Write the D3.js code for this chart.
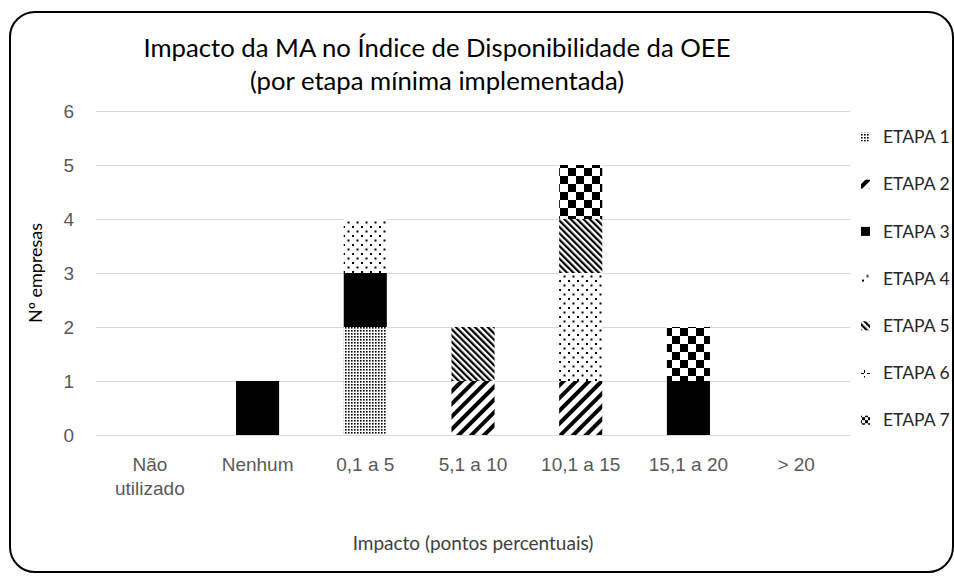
<!DOCTYPE html>
<html>
<head>
<meta charset="utf-8">
<script src="https://cdn.jsdelivr.net/npm/d3@7"></script>
<style>
  body { margin: 0; background: #fff; }
  svg { display: block; font-family: Lato, "Open Sans", sans-serif; }
</style>
</head>
<body>
<script>
// Chart data
const categories = ["Não utilizado", "Nenhum", "0,1 a 5", "5,1 a 10", "10,1 a 15", "15,1 a 20", "> 20"];
const stages = ["ETAPA 1", "ETAPA 2", "ETAPA 3", "ETAPA 4", "ETAPA 5", "ETAPA 6", "ETAPA 7"];
const etapa1 = [0, 0, 2, 0, 0, 0, 0];
const etapa2 = [0, 0, 0, 1, 1, 0, 0];
const etapa3 = [0, 1, 1, 0, 0, 1, 0];
const etapa4 = [0, 0, 1, 0, 2, 0, 0];
const etapa5 = [0, 0, 0, 1, 1, 0, 0];
const etapa6 = [0, 0, 0, 0, 0, 0, 0];
const etapa7 = [0, 0, 0, 0, 1, 1, 0];
const yTicks = [0, 1, 2, 3, 4, 5, 6];

const seriesValues = [etapa1, etapa2, etapa3, etapa4, etapa5, etapa6, etapa7];
const table = categories.map((c, i) => {
  const row = { cat: c };
  stages.forEach((s, j) => row[s] = seriesValues[j][i]);
  return row;
});

const width = 954, height = 582;
const margin = { top: 111, right: 104, bottom: 147, left: 96 };

const svg = d3.select("body").append("svg")
  .attr("width", width)
  .attr("height", height);

// Fill patterns, one per stage
const defs = svg.append("defs");

function pattern(id, w, h, transform) {
  const p = defs.append("pattern")
    .attr("id", id)
    .attr("patternUnits", "userSpaceOnUse")
    .attr("width", w)
    .attr("height", h);
  if (transform) p.attr("patternTransform", transform);
  p.append("rect").attr("width", w).attr("height", h).attr("fill", "#fff");
  return p;
}

// ETAPA 1 - dense dots
let p = pattern("pat1", 3, 3);
p.append("rect").attr("x", 0).attr("y", 0).attr("width", 1.6).attr("height", 1.6).attr("fill", "#000");

// ETAPA 2 - wide upward diagonal
p = pattern("pat2", 9, 9, "rotate(45)");
p.append("rect").attr("x", 0).attr("y", 0).attr("width", 4).attr("height", 9).attr("fill", "#000");

// ETAPA 3 - solid
p = pattern("pat3", 4, 4);
p.append("rect").attr("width", 4).attr("height", 4).attr("fill", "#000");

// ETAPA 4 - sparse dots
p = pattern("pat4", 9, 9);
p.append("rect").attr("x", 1).attr("y", 1).attr("width", 2).attr("height", 2).attr("fill", "#000");
p.append("rect").attr("x", 5.5).attr("y", 5.5).attr("width", 2).attr("height", 2).attr("fill", "#000");

// ETAPA 5 - narrow downward diagonal
p = pattern("pat5", 4.5, 4.5, "rotate(-45)");
p.append("rect").attr("x", 0).attr("y", 0).attr("width", 2.2).attr("height", 4.5).attr("fill", "#000");

// ETAPA 6 - dashed
p = pattern("pat6", 6, 6);
p.append("rect").attr("x", 0).attr("y", 0).attr("width", 3).attr("height", 1).attr("fill", "#000");
p.append("rect").attr("x", 3).attr("y", 3).attr("width", 1).attr("height", 3).attr("fill", "#000");

// ETAPA 7 - large checkerboard
p = pattern("pat7", 16, 16);
p.append("rect").attr("x", 0).attr("y", 0).attr("width", 8).attr("height", 8).attr("fill", "#000");
p.append("rect").attr("x", 8).attr("y", 8).attr("width", 8).attr("height", 8).attr("fill", "#000");

// small checker for the legend icon
p = pattern("pat7s", 6, 6, "translate(862,0)");
p.append("rect").attr("x", 0).attr("y", 0).attr("width", 3).attr("height", 3).attr("fill", "#000");
p.append("rect").attr("x", 3).attr("y", 3).attr("width", 3).attr("height", 3).attr("fill", "#000");

const fills = stages.map((s, i) => `url(#pat${i + 1})`);
const legendFills = fills.map((f, i) => i === 6 ? "url(#pat7s)" : f);

// Outer rounded frame (right edge sits at the window border)
svg.append("rect")
  .attr("x", 10).attr("y", 12)
  .attr("width", 943).attr("height", 560)
  .attr("rx", 25).attr("ry", 25)
  .attr("fill", "#fff")
  .attr("stroke", "#000")
  .attr("stroke-width", 2);

// Scales
const x = d3.scaleBand()
  .domain(categories)
  .range([margin.left, width - margin.right])
  .paddingInner(0.6)
  .paddingOuter(0.3);

const y = d3.scaleLinear()
  .domain([0, 6])
  .range([height - margin.bottom, margin.top]);

// Gridlines
svg.append("g")
  .selectAll("line")
  .data(yTicks)
  .join("line")
  .attr("x1", margin.left)
  .attr("x2", width - margin.right)
  .attr("y1", d => Math.round(y(d)) + 0.5)
  .attr("y2", d => Math.round(y(d)) + 0.5)
  .attr("stroke", "#d9d9d9")
  .attr("stroke-width", 1);

// Y axis
const yAxis = svg.append("g")
  .attr("transform", `translate(${margin.left},0)`)
  .call(d3.axisLeft(y).tickValues(yTicks).tickFormat(d3.format("d")).tickSize(0).tickPadding(22));
yAxis.select(".domain").remove();
yAxis.selectAll("text")
  .attr("fill", "#595959")
  .style("font-size", "19px");

// Stacked bars
const stacked = d3.stack().keys(stages)(table);

svg.append("g")
  .selectAll("g")
  .data(stacked)
  .join("g")
  .attr("fill", (d, i) => fills[i])
  .selectAll("rect")
  .data(d => d.filter(v => v[1] > v[0]))
  .join("rect")
  .attr("x", d => x(d.data.cat))
  .attr("y", d => y(d[1]))
  .attr("width", x.bandwidth())
  .attr("height", d => y(d[0]) - y(d[1]));

// X axis labels
const xAxis = svg.append("g")
  .attr("transform", `translate(0,${height - margin.bottom})`)
  .call(d3.axisBottom(x).tickSize(0).tickPadding(23));
xAxis.select(".domain").remove();
xAxis.selectAll("text")
  .attr("fill", "#595959")
  .style("font-size", "19px")
  .each(function(d) {
    if (d === "Não utilizado") {
      const t = d3.select(this).text(null);
      t.append("tspan").attr("x", 0).attr("dy", "0.71em").text("Não");
      t.append("tspan").attr("x", 0).attr("dy", "1.22em").text("utilizado");
      t.attr("dy", null);
    }
  });

// Axis titles
svg.append("text")
  .attr("x", 473)
  .attr("y", 550)
  .attr("text-anchor", "middle")
  .attr("fill", "#404040")
  .style("font-size", "19px")
  .text("Impacto (pontos percentuais)");

svg.append("text")
  .attr("transform", `translate(42,${(y(0) + y(6)) / 2}) rotate(-90)`)
  .attr("text-anchor", "middle")
  .attr("fill", "#000")
  .style("font-size", "18px")
  .text("Nº empresas");

// Title
const title = svg.append("text")
  .attr("text-anchor", "middle")
  .attr("fill", "#000")
  .style("font-size", "25.7px");
title.append("tspan").attr("x", 437).attr("y", 57).text("Impacto da MA no Índice de Disponibilidade da OEE");
title.append("tspan").attr("x", 437).attr("y", 90).text("(por etapa mínima implementada)");

// Legend
const legend = svg.append("g")
  .selectAll("g")
  .data(stages)
  .join("g")
  .attr("transform", (d, i) => `translate(861,${137 + i * 47.2})`);

legend.append("rect")
  .attr("x", 0).attr("y", -4.5)
  .attr("width", 9).attr("height", 9)
  .attr("fill", (d, i) => legendFills[i]);

legend.append("text")
  .attr("x", 22)
  .attr("dy", "0.35em")
  .attr("fill", "#262626")
  .style("font-size", "17.5px")
  .text(d => d);
</script>
</body>
</html>
